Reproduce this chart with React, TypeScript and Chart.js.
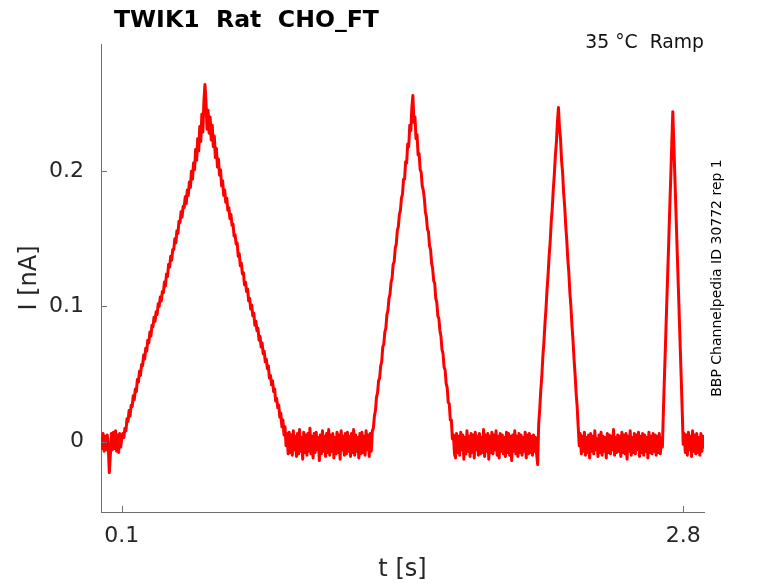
import { useEffect, useRef } from "react"
import { Chart, type ChartConfiguration, type Plugin, registerables } from "chart.js"

Chart.register(...registerables)

// recording sampled every 5 ms, values in nA
const sampleStep = 0.005

const baseline0 = [
  0.003, -0.005, 0.006, -0.007, 0.004, -0.006, 0.005, -0.004, -0.023, -0.01,
  0.006, -0.006, 0.007, -0.005, 0.008, -0.007, 0.005, -0.008, 0.006, -0.004, 0.003,
]
const rampUp1 = [
  0.006, 0.003, 0.01, 0.008, 0.017, 0.015, 0.023, 0.019, 0.027, 0.026,
  0.034, 0.031, 0.039, 0.037, 0.046, 0.044, 0.052, 0.049, 0.057, 0.056,
  0.064, 0.061, 0.069, 0.067, 0.075, 0.073, 0.081, 0.078, 0.086, 0.085,
  0.092, 0.089, 0.096, 0.094, 0.102, 0.1, 0.107, 0.104, 0.111, 0.11,
  0.118, 0.115, 0.124, 0.122, 0.131, 0.129, 0.137, 0.134, 0.142, 0.142,
  0.15, 0.147, 0.156, 0.154, 0.163, 0.162, 0.17, 0.166, 0.174, 0.173,
  0.181, 0.176, 0.186, 0.182, 0.192, 0.188, 0.2, 0.194, 0.206, 0.201,
  0.216, 0.208, 0.224, 0.215, 0.233, 0.222, 0.242, 0.229, 0.252, 0.264,
]
const rampDown1 = [
  0.251, 0.231, 0.245, 0.228, 0.24, 0.223, 0.234, 0.218, 0.226, 0.21,
  0.217, 0.203, 0.209, 0.197, 0.201, 0.189, 0.193, 0.182, 0.186, 0.177,
  0.18, 0.171, 0.173, 0.165, 0.168, 0.16, 0.161, 0.152, 0.153, 0.146,
  0.147, 0.137, 0.139, 0.13, 0.132, 0.124, 0.125, 0.116, 0.118, 0.111,
  0.113, 0.104, 0.106, 0.098, 0.101, 0.093, 0.095, 0.086, 0.089, 0.082,
  0.084, 0.075, 0.078, 0.07, 0.073, 0.065, 0.067, 0.059, 0.061, 0.054,
  0.056, 0.047, 0.049, 0.042, 0.045, 0.037, 0.039, 0.03, 0.032, 0.025,
  0.027, 0.018, 0.021, 0.011, 0.016, 0.005, 0.011, -0.003, 0.006, -0.009,
]
const baseline1 = [
  0.007, -0.008, 0.005, -0.01, 0.008, -0.006, 0.004, -0.011, 0.006, -0.009,
  0.009, -0.007, 0.003, -0.013, 0.007, -0.008, 0.005, -0.01, 0.006, -0.007,
  0.01, -0.009, 0.004, -0.012, 0.006, -0.008, 0.007, -0.006, 0.003, -0.014,
  0.005, -0.009, 0.008, -0.007, 0.004, -0.011, 0.006, -0.008, 0.009, -0.01,
  0.005, -0.007, 0.006, -0.012, 0.003, -0.009, 0.007, -0.008, 0.005, -0.013,
  0.008, -0.006, 0.004, -0.01, 0.006, -0.009, 0.007, -0.007, 0.004, -0.011,
  0.006, -0.008, 0.009, -0.01, 0.005, -0.007, 0.003, -0.012, 0.006, -0.009,
  0.007, -0.008, 0.004, -0.01, 0.008, -0.006, 0.005, -0.011, 0.006, -0.007,
]
const rampUp2 = [
  0.008, 0.01, 0.019, 0.023, 0.033, 0.036, 0.045, 0.047, 0.056, 0.059,
  0.07, 0.072, 0.081, 0.084, 0.094, 0.097, 0.106, 0.109, 0.118, 0.121,
  0.131, 0.133, 0.143, 0.146, 0.156, 0.159, 0.168, 0.171, 0.18, 0.183,
  0.194, 0.194, 0.207, 0.206, 0.22, 0.218, 0.234, 0.23, 0.247, 0.256,
]
const rampDown2 = [
  0.236, 0.24, 0.224, 0.227, 0.212, 0.213, 0.201, 0.199, 0.189, 0.186,
  0.18, 0.17, 0.166, 0.157, 0.155, 0.145, 0.142, 0.132, 0.128, 0.119,
  0.117, 0.106, 0.103, 0.093, 0.091, 0.082, 0.078, 0.068, 0.065, 0.055,
  0.053, 0.043, 0.04, 0.029, 0.028, 0.016, 0.016, 0.002, 0.005, -0.009,
]
const baseline2 = [
  -0.012, 0.006, -0.008, 0.004, -0.01, 0.007, -0.006, 0.005, -0.013, 0.003,
  -0.009, 0.008, -0.007, 0.004, -0.011, 0.006, -0.008, 0.005, -0.012, 0.007,
  -0.006, 0.004, -0.01, 0.006, -0.009, 0.003, -0.008, 0.009, -0.011, 0.005,
  -0.007, 0.006, -0.013, 0.004, -0.008, 0.007, -0.009, 0.005, -0.006, 0.008,
  -0.01, 0.004, -0.012, 0.006, -0.007, 0.005, -0.009, 0.003, -0.011, 0.007,
  -0.008, 0.006, -0.01, 0.004, -0.014, 0.005, -0.007, 0.008, -0.009, 0.004,
  -0.011, 0.006, -0.008, 0.005, -0.01, 0.003, -0.007, 0.007, -0.012, 0.005,
  -0.009, 0.006, -0.008, 0.004, -0.01, 0.005, -0.007, 0.003, -0.009, -0.017,
]
const rampUp3 = [
  0.013, 0.024, 0.038, 0.048, 0.063, 0.073, 0.087, 0.098, 0.112, 0.123,
  0.137, 0.147, 0.162, 0.172, 0.186, 0.197, 0.211, 0.221, 0.236, 0.247,
]
const rampDown3 = [
  0.232, 0.224, 0.208, 0.199, 0.184, 0.174, 0.16, 0.149, 0.135, 0.125,
  0.11, 0.1, 0.086, 0.075, 0.061, 0.05, 0.036, 0.026, 0.011, -0.003,
]
const baseline3 = [
  0.006, -0.009, 0.004, -0.007, 0.007, -0.01, 0.003, -0.008, 0.005, -0.012,
  0.006, -0.007, 0.004, -0.009, 0.008, -0.006, 0.002, -0.011, 0.005, -0.008,
  0.007, -0.01, 0.004, -0.007, 0.003, -0.012, 0.006, -0.008, 0.005, -0.009,
  0.004, -0.006, 0.009, -0.01, 0.003, -0.008, 0.005, -0.007, 0.004, -0.011,
  0.007, -0.008, 0.005, -0.009, 0.006, -0.013, 0.004, -0.007, 0.008, -0.01,
  0.003, -0.008, 0.006, -0.009, 0.005, -0.006, 0.007, -0.011, 0.004, -0.008,
  0.006, -0.01, 0.005, -0.007, 0.003, -0.012, 0.007, -0.008, 0.004, -0.009,
  0.006, -0.007, 0.005, -0.01, 0.004, -0.008, 0.006, -0.009, 0.003, -0.004,
]
const rampUp4 = [0.024, 0.049, 0.073, 0.098, 0.122, 0.146, 0.171, 0.195, 0.22, 0.244]
const rampDown4 = [0.22, 0.195, 0.171, 0.146, 0.122, 0.098, 0.073, 0.049, 0.024, -0.002]
const baseline4 = [
  0.006, -0.008, 0.005, -0.01, 0.007, -0.006, 0.004, -0.011, 0.008, -0.007,
  0.005, -0.009, 0.006, -0.008, 0.003, -0.01, 0.006, -0.007, 0.004, -0.005,
]

const current = [
  baseline0, rampUp1, rampDown1, baseline1, rampUp2, rampDown2, baseline2,
  rampUp3, rampDown3, baseline3, rampUp4, rampDown4, baseline4,
].flat()

const xTicks = [0.1, 2.8]
const yTicks = [0, 0.1, 0.2]

const title = "TWIK1  Rat  CHO_FT"
const condition = "35 °C  Ramp"
const sideNote = "BBP Channelpedia ID 30772 rep 1"
const xTitle = "t [s]"
const yTitle = "I [nA]"

const font = "'DejaVu Sans', sans-serif"
const textColor = "#262626"
const axisColor = "#707070"

const decorations: Plugin<"line"> = {
  id: "decorations",
  afterDraw(chart) {
    const { ctx, chartArea, scales } = chart
    ctx.save()

    // inward tick marks
    ctx.strokeStyle = axisColor
    ctx.lineWidth = 1
    yTicks.forEach((v) => {
      const y = Math.round(scales.y.getPixelForValue(v)) + 0.5
      ctx.beginPath()
      ctx.moveTo(chartArea.left, y)
      ctx.lineTo(chartArea.left + 6, y)
      ctx.stroke()
    })
    xTicks.forEach((v) => {
      const x = Math.round(scales.x.getPixelForValue(v)) + 0.5
      ctx.beginPath()
      ctx.moveTo(x, chartArea.bottom)
      ctx.lineTo(x, chartArea.bottom - 6)
      ctx.stroke()
    })

    ctx.fillStyle = "#000000"
    ctx.textBaseline = "alphabetic"
    ctx.textAlign = "left"
    ctx.font = `bold 23.6px ${font}`
    ctx.fillText(title, 114, 27)

    ctx.fillStyle = "#111111"
    ctx.textAlign = "right"
    ctx.font = `18.8px ${font}`
    ctx.fillText(condition, chartArea.right, 48)

    ctx.fillStyle = textColor
    ctx.textAlign = "center"
    ctx.font = `24px ${font}`
    ctx.fillText(xTitle, (chartArea.left + chartArea.right) / 2, 576)

    ctx.save()
    ctx.translate(36, 278)
    ctx.rotate(-Math.PI / 2)
    ctx.fillText(yTitle, 0, 0)
    ctx.restore()

    ctx.save()
    ctx.fillStyle = "#000000"
    ctx.font = `14px ${font}`
    ctx.translate(721, 278)
    ctx.rotate(-Math.PI / 2)
    ctx.fillText(sideNote, 0, 0)
    ctx.restore()

    ctx.restore()
  },
}

export default function App() {
  const canvasRef = useRef<HTMLCanvasElement>(null)
  const chartRef = useRef<Chart | null>(null)

  useEffect(() => {
    if (!canvasRef.current) return
    if (chartRef.current) chartRef.current.destroy()

    const points = current.map((y, i) => ({ x: i * sampleStep, y }))

    const config: ChartConfiguration<"line"> = {
      type: "line",
      data: {
        datasets: [
          {
            data: points,
            borderColor: "#ff0000",
            borderWidth: 3,
            borderJoinStyle: "round",
            pointRadius: 0,
            tension: 0,
            fill: false,
          },
        ],
      },
      options: {
        responsive: false,
        animation: false,
        layout: { padding: { left: 0, right: 74, top: 44, bottom: 0 } },
        plugins: {
          legend: { display: false },
          tooltip: { enabled: false },
          title: { display: false },
        },
        scales: {
          x: {
            type: "linear",
            min: 0,
            max: 2.9,
            grid: { display: false, drawTicks: false },
            border: { display: true, color: axisColor, width: 1 },
            afterBuildTicks: (scale) => {
              scale.ticks = xTicks.map((value) => ({ value }))
            },
            afterFit: (scale) => {
              scale.height = 71
            },
            ticks: {
              color: textColor,
              font: { family: font, size: 22 },
              padding: 11,
              maxRotation: 0,
              callback: (v) => String(v),
            },
          },
          y: {
            type: "linear",
            min: -0.052,
            max: 0.294,
            grid: { display: false, drawTicks: false },
            border: { display: true, color: axisColor, width: 1 },
            afterBuildTicks: (scale) => {
              scale.ticks = yTicks.map((value) => ({ value }))
            },
            afterFit: (scale) => {
              scale.width = 101
            },
            ticks: {
              color: textColor,
              font: { family: font, size: 22 },
              padding: 17,
              callback: (v) => String(v),
            },
          },
        },
      },
      plugins: [decorations],
    }

    chartRef.current = new Chart(canvasRef.current, config)

    return () => {
      if (chartRef.current) {
        chartRef.current.destroy()
        chartRef.current = null
      }
    }
  }, [])

  return (
    <div style={{ position: "absolute", left: 0, top: 0, width: 778, height: 583, background: "#ffffff" }}>
      <canvas ref={canvasRef} width={778} height={583} style={{ display: "block" }} />
    </div>
  )
}
